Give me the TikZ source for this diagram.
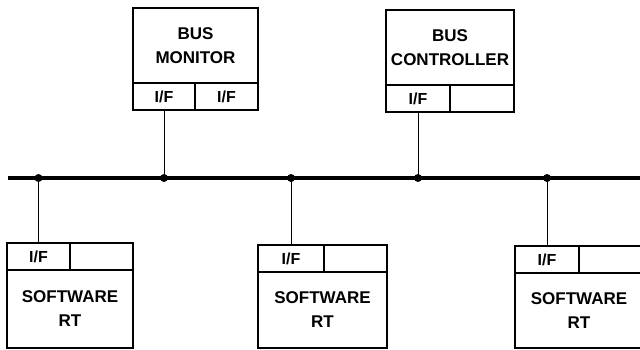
\documentclass[tikz,border=0pt]{standalone}
\usepackage{fontspec}
\setmainfont{Liberation Sans}
\usetikzlibrary{calc,positioning}

\tikzset{
  unit/.style={draw,line width=1.4pt,inner sep=0pt,outer sep=0pt,align=center,
    font=\fontsize{17}{24}\selectfont\bfseries},
  iface/.style={draw,line width=1.4pt,inner sep=0pt,outer sep=0pt,minimum height=27pt,
    font=\fontsize{16}{18}\selectfont\bfseries},
  tap/.style={line width=0.9pt},
  bus/.style={line width=4.5pt}
}

\begin{document}
\begin{tikzpicture}[x=1pt,y=-1pt]
	\useasboundingbox (0,0) rectangle (640,350);

	% the bus
	\coordinate (busL) at (8,178);
	\coordinate (busR) at (640,178);
	\draw[bus] (busL) -- (busR);

	% units above the bus
	\node[unit,minimum width=125pt,minimum height=75pt,anchor=north west] (monitor) at (133,8) {BUS\\MONITOR};
	\node[iface,minimum width=62pt,anchor=north west] (monitorif1) at (monitor.south west) {I/F};
	\node[iface,minimum width=63pt,anchor=north west] (monitorif2) at (monitorif1.north east) {I/F};

	\node[unit,minimum width=128pt,minimum height=75pt,anchor=north west] (controller) at (386,10) {BUS\\CONTROLLER};
	\node[iface,minimum width=64pt,anchor=north west] (controllerif1) at (controller.south west) {I/F};
	\node[iface,minimum width=64pt,anchor=north west] (controllerif2) at (controllerif1.north east) {};

	% remote terminals below the bus
	\node[iface,minimum width=63pt,anchor=north west] (rtaif1) at (7,243) {I/F};
	\node[iface,minimum width=63pt,anchor=north west] (rtaif2) at (rtaif1.north east) {};
	\node[unit,minimum width=126pt,minimum height=78pt,anchor=north west] (rta) at (rtaif1.south west) {SOFTWARE\\RT};

	\node[iface,minimum width=66pt,anchor=north west] (rtbif1) at (258,245) {I/F};
	\node[iface,minimum width=63pt,anchor=north west] (rtbif2) at (rtbif1.north east) {};
	\node[unit,minimum width=129pt,minimum height=76pt,anchor=north west] (rtb) at (rtbif1.south west) {SOFTWARE\\RT};

	\node[iface,minimum width=64pt,anchor=north west] (rtcif1) at (515,246) {I/F};
	\node[iface,minimum width=64pt,anchor=north west] (rtcif2) at (rtcif1.north east) {};
	\node[unit,minimum width=128pt,minimum height=75pt,anchor=north west] (rtc) at (rtcif1.south west) {SOFTWARE\\RT};

	% taps onto the bus
	\foreach \Cell in {monitorif1,controllerif1}
	  \draw[tap] (\Cell.south) -- (\Cell.south |- busL);
	\foreach \Cell in {rtaif1,rtbif1,rtcif1}
	  \draw[tap] (\Cell.north) -- (\Cell.north |- busL);
	\foreach \Cell in {monitorif1,controllerif1,rtaif1,rtbif1,rtcif1}
	  \fill (\Cell.center |- busL) circle (4pt);
\end{tikzpicture}
\end{document}
